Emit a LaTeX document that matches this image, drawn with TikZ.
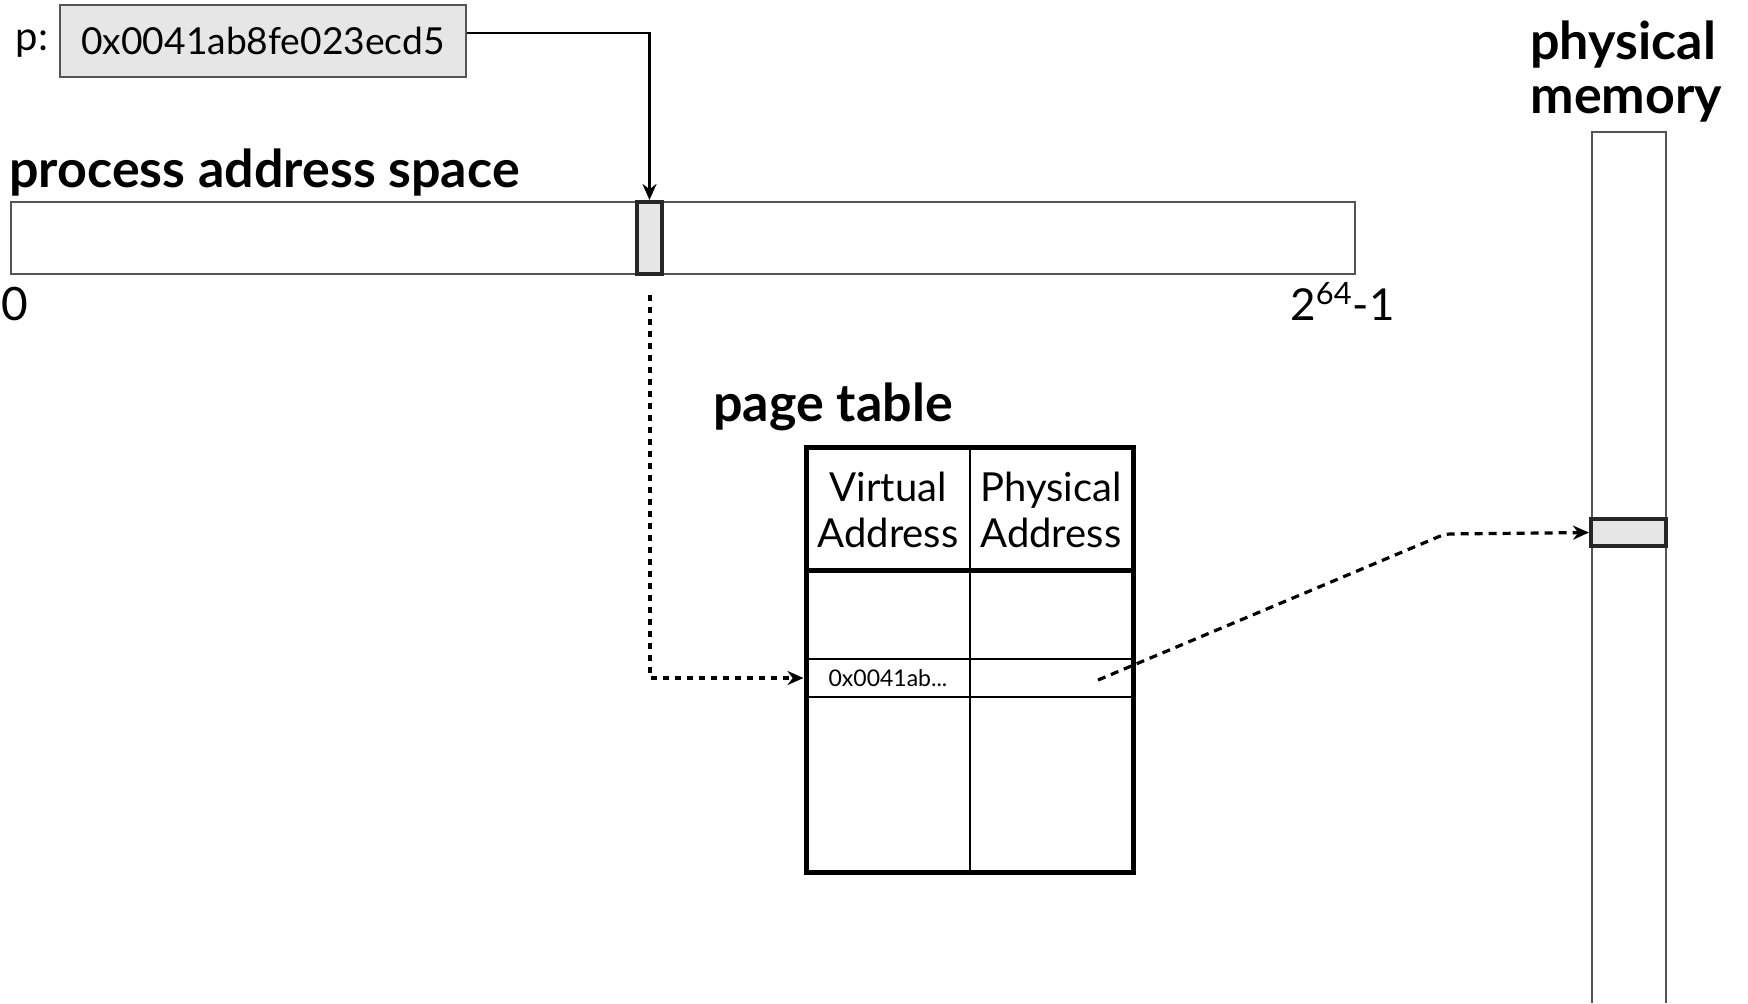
\documentclass[tikz,border=0pt]{standalone}
\usepackage{fontspec}
\setmainfont{Lato}
\usetikzlibrary{arrows.meta}
\definecolor{boxfill}{HTML}{E6E6E6}
\definecolor{edge}{HTML}{555555}
\begin{document}
\begin{tikzpicture}[x=0.5pt,y=-0.5pt,
  title/.style={font=\fontsize{26}{28}\selectfont\bfseries, inner sep=0pt},
  label/.style={font=\fontsize{20}{22}\selectfont, inner sep=0pt},
  thinbox/.style={draw=edge, line width=0.9pt, inner sep=0pt},
  markbox/.style={draw=black!85, line width=2pt, fill=boxfill, inner sep=0pt},
  link/.style={line width=1.3pt, -{Stealth[length=8pt,width=7pt]}},
  dotlink/.style={line width=1.6pt, dash pattern=on 3pt off 3pt, -{Stealth[length=8pt,width=7pt]}},
  dashlink/.style={line width=1.6pt, dash pattern=on 4pt off 3pt, rounded corners=3pt, -{Stealth[length=8pt,width=7pt]}}]
\useasboundingbox (0,0) rectangle (1748,1003);

% pointer variable
\node[label, anchor=base] (plabel) at (32,50) {p:};
\node[thinbox, fill=boxfill, minimum width=203pt, minimum height=36pt,
      font=\fontsize{18.6}{20}\selectfont] (pbox) at (263,41) {0x0041ab8fe023ecd5};

% process address space
\node[title, anchor=base west] (pastitle) at (9,187) {process address space};
\node[thinbox, minimum width=672pt, minimum height=36pt] (bar) at (683,238) {};
\node[markbox, minimum width=12.5pt, minimum height=36pt] (sel) at (649.5,238) {};
\node[font=\fontsize{23}{25}\selectfont, inner sep=0pt, anchor=base] (zero) at (15,320) {0};
\node[font=\fontsize{22}{24}\selectfont, inner sep=0pt, anchor=base west] (top) at (1290,320) {2$^{\mathrm{64}}$-1};

\draw[link] ([yshift=4pt]pbox.east) -| (sel.north);

% page table
\node[title, anchor=base west] (pttitle) at (713,421) {page table};
\node[draw, line width=2.5pt, minimum width=163.5pt, minimum height=212.5pt, inner sep=0pt] (pt) at (969.5,659.5) {};
\draw[line width=1pt] (970,447) -- (970,872);
\draw[line width=2.5pt] (806,570) -- (1133,570);
\draw[line width=1pt] (806,659) -- (1133,659);
\draw[line width=1pt] (806,697) -- (1133,697);
\node[align=center, font=\fontsize{20}{23}\selectfont, inner sep=0pt] (hva) at (888,510) {Virtual\\Address};
\node[align=center, font=\fontsize{20}{23}\selectfont, inner sep=0pt] (hpa) at (1051,510) {Physical\\Address};
\node[font=\fontsize{11.5}{13}\selectfont, inner sep=0pt] (rva) at (888,678) {0x0041ab...};
\coordinate (rpa) at (1098,680);

% physical memory
\node[title, anchor=base west] (pmtitle) at (1530,59) {physical};
\node[title, anchor=base west] (pmtitle2) at (1530,113) {memory};
\draw[edge, line width=0.9pt] (1592,1003) -- (1592,132) -- (1666,132) -- (1666,1003);
\node[markbox, minimum width=37.5pt, minimum height=13.5pt] (frame) at (1628.5,532.5) {};

% translation path
\coordinate (vstart) at (650,295);
\draw[dotlink] (vstart) |- (rva -| pt.west);
\draw[dashlink] (rpa) -- (1445,534) -- (frame.west);
\end{tikzpicture}
\end{document}
